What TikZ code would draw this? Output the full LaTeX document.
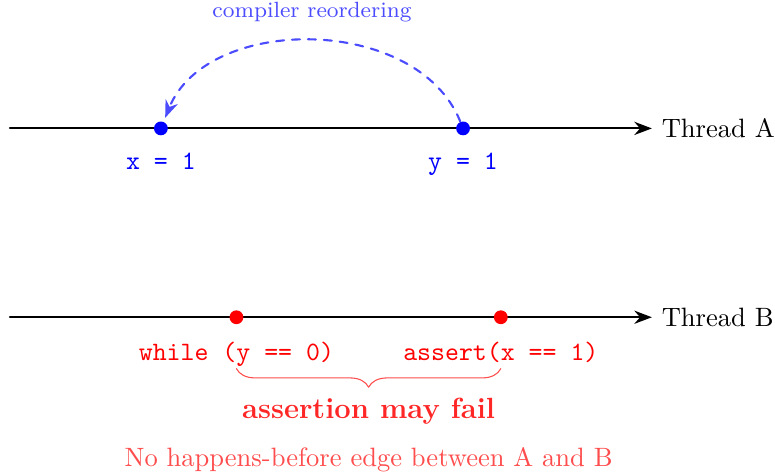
\documentclass[tikz,border=0pt]{standalone}
\usepackage{tikz}
\usetikzlibrary{arrows.meta,calc,positioning,decorations.pathreplacing}

\begin{document}
\begin{tikzpicture}[
    >=Stealth,
    line cap=round,
    line join=round,
    dot/.style={circle,inner sep=0pt,minimum size=5.2pt},
    codelabel/.style={font=\ttfamily}
]

% -----------------------
% Parameters
% -----------------------
\def\len{8.5}
\def\gap{2.5}

\useasboundingbox (-0.13,-4.6) rectangle (10.13,1.7);

% -----------------------
% Timelines
% -----------------------
\coordinate (A0) at (0,0);
\coordinate (A1) at (\len,0);
\coordinate (B0) at (0,-\gap);
\coordinate (B1) at (\len,-\gap);

\draw[->,thick] (A0) -- (A1) node[right] (ta) {Thread A};
\draw[->,thick] (B0) -- (B1) node[right] (tb) {Thread B};

% -----------------------
% Thread A events
% -----------------------
\node[dot,fill=blue] (xa) at (2,0) {};
\node[dot,fill=blue] (ya) at (6,0) {};

\node[codelabel,text=blue,below=3pt of xa] (xlab) {x = 1};
\node[codelabel,text=blue,below=3pt of ya] (ylab) {y = 1};

% -----------------------
% Reordering arc
% -----------------------
\draw[->,dashed,thick,blue!70,shorten >=1.5pt] (ya) to[bend right=68]
    node[midway,above=3.5pt,font=\fontsize{8.3pt}{10pt}\selectfont] (reord) {compiler reordering} (xa);

% -----------------------
% Thread B events
% -----------------------
\node[dot,fill=red] (wb) at (3,-\gap) {};
\node[dot,fill=red] (ab) at (6.5,-\gap) {};

\node[codelabel,text=red,below=3pt of wb] (wlab) {while (y == 0)};
\node[codelabel,text=red,below=3pt of ab] (alab) {assert(x == 1)};

% -----------------------
% Brace and verdict
% -----------------------
\draw[red!70,decorate,decoration={brace,mirror,amplitude=7pt}]
    ($(wb)+(0,-0.68)$) -- ($(ab)+(0,-0.68)$);

\node[font=\fontsize{11pt}{13pt}\selectfont\bfseries,text=red!85] (fail) at ($(wb)!0.5!(ab)+(0,-1.245)$) {assertion may fail};
\node[text=red!70,below=1.5pt of fail] (nohb) {No happens-before edge between A and B};

\end{tikzpicture}
\end{document}
